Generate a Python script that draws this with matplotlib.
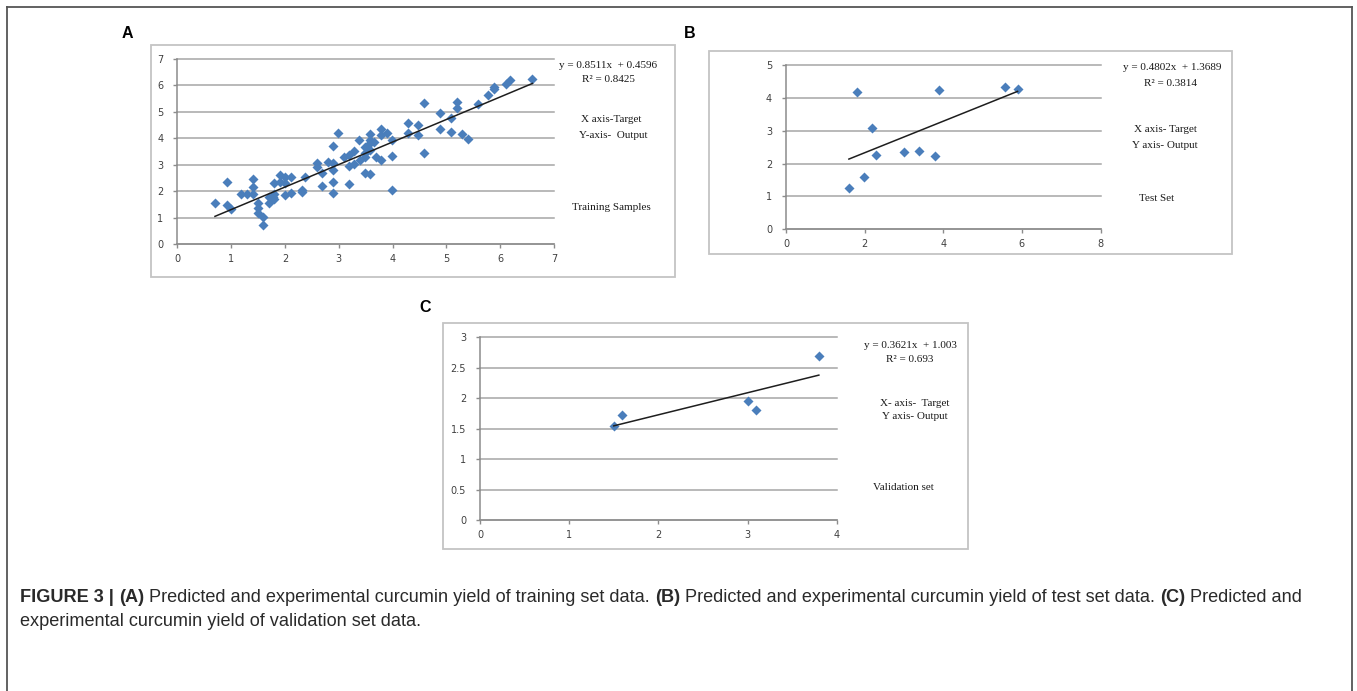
import numpy as np
import matplotlib
matplotlib.use("Agg")
import matplotlib.pyplot as plt
from matplotlib.patches import Rectangle
from matplotlib.lines import Line2D
from matplotlib.ticker import FuncFormatter

W, H = 1357, 691
BLUE = "#4a7ebb"
GRID = "#a6a6a6"
AXC = "#8c8c8c"

# (A) training set
train_x = [0.70, 0.92, 0.93, 0.99, 1.19, 1.30, 1.40, 1.40, 1.40, 1.50, 1.50, 1.50,
           1.60, 1.60, 1.70, 1.70, 1.78, 1.80, 1.80, 1.80, 1.90, 1.90, 2.00, 2.00,
           2.00, 2.12, 2.12, 2.31, 2.31, 2.38, 2.59, 2.59, 2.69, 2.69, 2.80, 2.89,
           2.89, 2.89, 2.89, 2.89, 2.99, 3.09, 3.19, 3.19, 3.19, 3.29, 3.29, 3.38,
           3.40, 3.49, 3.49, 3.49, 3.49, 3.55, 3.59, 3.59, 3.59, 3.59, 3.65, 3.69,
           3.79, 3.79, 3.79, 3.89, 3.99, 3.99, 3.99, 4.28, 4.28, 4.48, 4.48, 4.59,
           4.59, 4.89, 4.89, 5.09, 5.09, 5.20, 5.20, 5.29, 5.40, 5.58, 5.78, 5.89,
           5.89, 6.10, 6.19, 6.60]
train_y = [1.55, 2.34, 1.48, 1.34, 1.91, 1.91, 2.48, 2.17, 1.91, 1.55, 1.39, 1.17,
           1.05, 0.72, 1.80, 1.55, 1.80, 1.90, 1.70, 2.30, 2.62, 2.35, 2.56, 1.86,
           2.30, 2.56, 1.93, 2.05, 1.98, 2.56, 3.06, 2.93, 2.68, 2.22, 3.12, 3.08,
           3.73, 2.81, 2.34, 1.95, 4.22, 3.31, 3.37, 2.29, 2.96, 3.04, 3.53, 3.94,
           3.20, 3.69, 3.44, 3.29, 2.71, 3.75, 2.64, 4.16, 3.94, 3.56, 3.85, 3.31,
           4.35, 4.13, 3.19, 4.19, 3.94, 3.34, 2.05, 4.57, 4.22, 4.51, 4.13, 5.35,
           3.44, 4.95, 4.35, 4.79, 4.26, 5.39, 5.14, 4.17, 3.99, 5.30, 5.64, 5.96,
           5.86, 6.05, 6.21, 6.23]
# (B) test set
test_x = [1.60, 1.80, 1.98, 2.18, 2.29, 3.00, 3.38, 3.79, 3.88, 5.57, 5.89]
test_y = [1.27, 4.19, 1.58, 3.07, 2.26, 2.34, 2.38, 2.23, 4.23, 4.34, 4.26]
# (C) validation set
val_x = [1.50, 1.59, 3.00, 3.10, 3.80]
val_y = [1.54, 1.72, 1.96, 1.80, 2.69]

fits = {"A": (0.8511, 0.4596), "B": (0.4802, 1.3689), "C": (0.3621, 1.003)}
eqs = {"A": ["y = 0.8511x  + 0.4596", "R² = 0.8425"],
       "B": ["y = 0.4802x  + 1.3689", "R² = 0.3814"],
       "C": ["y = 0.3621x  + 1.003", "R² = 0.693"]}
axis_txt = {"A": ["X axis-Target", "Y-axis-  Output"],
            "B": ["X axis- Target", "Y axis- Output"],
            "C": ["X- axis-  Target", "Y axis- Output"]}
set_txt = {"A": "Training Samples", "B": "Test Set", "C": "Validation set"}

caption1 = [("FIGURE 3 | ", "bold"), ("(A)", "bold"),
            (" Predicted and experimental curcumin yield of training set data. ", "normal"),
            ("(B)", "bold"),
            (" Predicted and experimental curcumin yield of test set data. ", "normal"),
            ("(C)", "bold"), (" Predicted and", "normal")]
caption2 = "experimental curcumin yield of validation set data."

fig = plt.figure(figsize=(W / 100, H / 100), dpi=100)


def fx(x): return x / W
def fy(y): return 1 - y / H


def frame(x0, y0, x1, y1):
    fig.add_artist(Rectangle((fx(x0), fy(y1)), (x1 - x0) / W, (y1 - y0) / H,
                             transform=fig.transFigure, fill=False, ec="#c4c4c4", lw=1.3))


def panel(px, key, xs, ys, xmax, xstep, ymax, ystep):
    x0, x1, ytop, ybot = px
    ax = fig.add_axes([fx(x0), fy(ybot), (x1 - x0) / W, (ybot - ytop) / H])
    ax.set_xlim(0, xmax); ax.set_ylim(0, ymax)
    ax.set_xticks(np.arange(0, xmax + xstep / 2, xstep))
    ax.set_yticks(np.arange(0, ymax + ystep / 2, ystep))
    fmt = FuncFormatter(lambda v, _: f"{v:g}")
    ax.xaxis.set_major_formatter(fmt); ax.yaxis.set_major_formatter(fmt)
    ax.yaxis.grid(True, color=GRID, lw=1.1)
    for gl in ax.get_ygridlines():
        gl.set_clip_on(False)
    ax.set_axisbelow(True)
    for sp in ("top", "right"):
        ax.spines[sp].set_visible(False)
    for sp in ("left", "bottom"):
        ax.spines[sp].set_color(AXC); ax.spines[sp].set_linewidth(1.1)
    ax.tick_params(length=3, width=1, color=AXC, labelsize=7, labelcolor="#404040")
    ax.tick_params(axis="y", pad=7)
    ax.tick_params(axis="x", pad=4)
    ax.scatter(xs, ys, marker="D", s=26, color=BLUE, lw=0, zorder=3, clip_on=False)
    m, b = fits[key]
    xx = np.array([min(xs), max(xs)])
    ax.plot(xx, m * xx + b, color="#1e1e1e", lw=1.1, zorder=4)
    return ax


def serif(x, y, s):
    fig.text(fx(x), fy(y), s, ha="center", va="center", fontsize=8,
             family="Liberation Serif", color="#1a1a1a")


def letter(x, y, s):
    fig.text(fx(x), fy(y), s, fontsize=11.5, weight="bold", family="Liberation Sans",
             ha="center", va="center")


# outer figure border
for seg in [((7, 7), (7, H)), ((7, 7), (1352, 7)), ((1352, 7), (1352, H))]:
    (a, b), (c, d) = seg
    fig.add_artist(Line2D([fx(a), fx(c)], [fy(b), fy(d)], transform=fig.transFigure,
                          color="#555555", lw=1.3))

# panel A
frame(151, 45, 675, 277)
panel((177.3, 554, 59, 244.3), "A", train_x, train_y, 7, 1, 7, 1)
letter(127, 33, "A")
serif(608, 66, eqs["A"][0]); serif(608, 80, eqs["A"][1])
serif(611, 120, axis_txt["A"][0]); serif(613, 136, axis_txt["A"][1])
serif(611, 207, set_txt["A"])

# panel B
frame(709, 51, 1232, 254)
panel((786, 1100.5, 65, 229.3), "B", test_x, test_y, 8, 2, 5, 1)
letter(690, 34, "B")
serif(1172, 68, eqs["B"][0]); serif(1171, 83, eqs["B"][1])
serif(1165, 129, axis_txt["B"][0]); serif(1165, 145, axis_txt["B"][1])
serif(1157, 199, set_txt["B"])

# panel C
frame(443, 323, 968, 549)
panel((480, 836.7, 337.3, 520), "C", val_x, val_y, 4, 1, 3, 0.5)
letter(425, 308, "C")
serif(910, 346, eqs["C"][0]); serif(910, 360, eqs["C"][1])
serif(915, 403, axis_txt["C"][0]); serif(915, 417, axis_txt["C"][1])
serif(903, 488, set_txt["C"])

# caption
r = fig.canvas.get_renderer()
x = 20
for s, w in caption1:
    t = fig.text(fx(x), fy(597), s, fontsize=13.1, weight=w, family="Liberation Sans",
                 ha="left", va="center", color="#2a2a2a")
    x += t.get_window_extent(r).width
fig.text(fx(20), fy(621), caption2, fontsize=13.1, family="Liberation Sans",
         ha="left", va="center", color="#2a2a2a")

fig.savefig("out.png", dpi=100)
